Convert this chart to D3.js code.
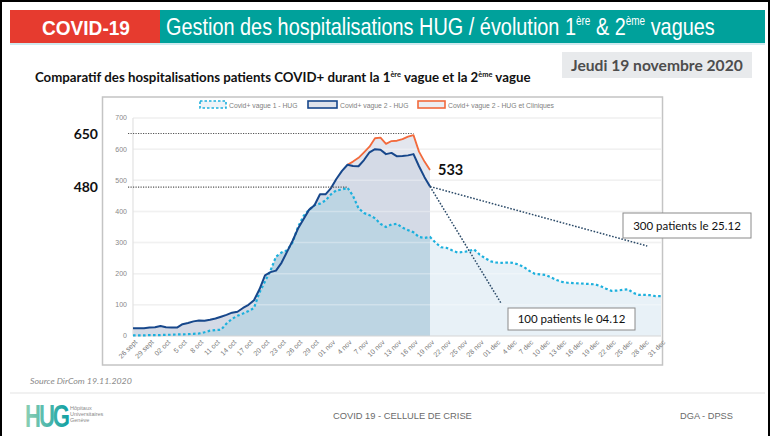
<!DOCTYPE html>
<html>
<head>
<meta charset="utf-8">
<script src="https://cdn.jsdelivr.net/npm/d3@7"></script>
<style>
  body { margin: 0; background: #fff; }
  svg { display: block; }
</style>
</head>
<body>
<svg id="slide" width="772" height="436"></svg>
<script>
// ---- data ----
const tickLabels = ["26 sept","29 sept","02 oct","5 oct","8 oct","11 oct","14 oct","17 oct","20 oct","23 oct","26 oct","29 oct","01 nov","4 nov","7 nov","10 nov","13 nov","16 nov","19 nov","22 nov","25 nov","28 nov","01 dec","4 dec","7 dec","10 dec","13 dec","16 dec","19 dec","22 dec","25 dec","28 dec","31 dec"];
const yTicks = [0, 100, 200, 300, 400, 500, 600, 700];

// daily values, day 0 = 26 sept
const wave1 = [2,2,2,3,3,3,4,4,5,5,6,7,8,12,17,19,20,40,55,65,72,80,90,140,175,210,255,268,275,300,
  350,385,405,420,425,435,455,468,470,476,450,410,395,388,378,360,350,358,360,348,340,333,318,315,318,
  300,285,283,275,268,270,272,278,262,250,240,236,235,236,235,230,222,210,200,198,196,188,180,174,171,
  170,169,168,167,166,160,152,145,146,148,150,138,132,132,131,128,128];
const wave2 = [25,25,25,27,28,32,28,27,27,38,42,47,50,49,52,56,62,68,75,78,90,100,115,150,195,205,210,235,
  270,305,345,375,405,420,455,455,475,505,530,550,546,545,565,590,600,598,584,588,577,578,580,584,545,510,480];
const clinStart = 39; // first day of the "HUG et Cliniques" series
const wave2Clin = [550,560,572,590,608,635,637,617,626,627,632,640,645,592,560,533];

const peaks = [{day: 51, value: 650, label: "650"}, {day: 39, value: 478, label: "480"}];
const projections = [
  {end: [93.5, 289], label: "300 patients le 25.12"},
  {end: [67, 103], label: "100 patients le 04.12"}
];
const lastDay2 = wave2.length - 1;

const svg = d3.select('#slide');
const F = '"Liberation Sans", Arial, sans-serif';
const C = 'Lato, "Open Sans", sans-serif';

// squeeze a text to a target width
function fit(sel, w) {
  const cur = sel.node().getComputedTextLength();
  const x = +sel.attr('x');
  sel.attr('transform', `translate(${x},0) scale(${w / cur},1) translate(${-x},0)`);
}

// ---- header ----
svg.append('rect').attr('x', 10).attr('y', 10).attr('width', 150).attr('height', 33).attr('fill', '#e63b2f');
svg.append('rect').attr('x', 160).attr('y', 10).attr('width', 605).attr('height', 33).attr('fill', '#00a19b');
svg.append('rect').attr('x', 10).attr('y', 43).attr('width', 755).attr('height', 2).attr('fill', '#cfe9ee');

const h1 = svg.append('text').attr('x', 42).attr('y', 35)
  .attr('font-family', F).attr('font-weight', 'bold').attr('font-size', 21).attr('fill', '#fff')
  .text('COVID-19');
fit(h1, 88);

const h2 = svg.append('text').attr('x', 166).attr('y', 35)
  .attr('font-family', F).attr('font-size', 24).attr('fill', '#fff');
h2.append('tspan').text('Gestion des hospitalisations HUG / évolution 1');
h2.append('tspan').attr('font-size', 12).attr('dy', -10).text('ère');
h2.append('tspan').attr('dy', 10).text(' & 2');
h2.append('tspan').attr('font-size', 12).attr('dy', -10).text('ème');
h2.append('tspan').attr('dy', 10).text(' vagues');
fit(h2, 549);

// date box
svg.append('rect').attr('x', 562).attr('y', 52).attr('width', 190).attr('height', 26).attr('fill', '#e8eaec');
const dt = svg.append('text').attr('x', 571).attr('y', 71)
  .attr('font-family', C).attr('font-weight', 'bold').attr('font-size', 15).attr('fill', '#4d4d4d')
  .text('Jeudi 19 novembre 2020');
fit(dt, 172);

// subtitle
const st = svg.append('text').attr('x', 35).attr('y', 82)
  .attr('font-family', C).attr('font-weight', 'bold').attr('font-size', 12.5).attr('fill', '#111');
st.append('tspan').text('Comparatif des hospitalisations patients COVID+ durant la 1');
st.append('tspan').attr('font-size', 7).attr('dy', -5).text('ère');
st.append('tspan').attr('dy', 5).text(' vague et la 2');
st.append('tspan').attr('font-size', 7).attr('dy', -5).text('ème');
st.append('tspan').attr('dy', 5).text(' vague');
fit(st, 496);

// ---- chart frame ----
svg.append('rect').attr('x', 102.5).attr('y', 97).attr('width', 560).attr('height', 268)
  .attr('fill', '#fff').attr('stroke', '#c4c4c4').attr('stroke-width', 1.5);

const x = d3.scaleLinear().domain([0, 96]).range([133, 661]);
const y = d3.scaleLinear().domain([0, 700]).range([336, 118]);

// gridlines under the areas
svg.append('g').selectAll('line').data(yTicks.slice(1)).join('line')
  .attr('x1', x(0)).attr('x2', x(96)).attr('y1', d => y(d)).attr('y2', d => y(d))
  .attr('stroke', '#ebebeb').attr('stroke-width', 1.5);

const area = vals => d3.area().x((d, i) => x(i)).y0(y(0)).y1(d => y(d))(vals);

// wave 2 area
svg.append('path').attr('d', area(wave2)).attr('fill', '#d4dae6');

// band between wave 2 and wave 2 + cliniques
const band = d3.area().x((d, i) => x(clinStart + i)).y0((d, i) => y(wave2[clinStart + i])).y1(d => y(d));
svg.append('path').attr('d', band(wave2Clin)).attr('fill', '#e3e6ee');

// wave 1 area: darker up to today, lighter after
const defs = svg.append('defs');
defs.append('clipPath').attr('id', 'past').append('rect')
  .attr('x', x(0)).attr('y', y(700)).attr('width', x(lastDay2) - x(0)).attr('height', y(0) - y(700));
defs.append('clipPath').attr('id', 'future').append('rect')
  .attr('x', x(lastDay2)).attr('y', y(700)).attr('width', x(96) - x(lastDay2)).attr('height', y(0) - y(700));
svg.append('path').attr('d', area(wave1)).attr('fill', '#bdd5e3').attr('clip-path', 'url(#past)');
svg.append('path').attr('d', area(wave1)).attr('fill', '#e8f1f7').attr('clip-path', 'url(#future)');

// gridlines faintly over the areas
svg.append('g').selectAll('line').data(yTicks.slice(1)).join('line')
  .attr('x1', x(0)).attr('x2', x(96)).attr('y1', d => y(d)).attr('y2', d => y(d))
  .attr('stroke', '#fff').attr('stroke-opacity', 0.3).attr('stroke-width', 1.5);

// axes lines
svg.append('line').attr('x1', x(0)).attr('x2', x(0)).attr('y1', y(700)).attr('y2', y(0))
  .attr('stroke', '#e2e2e2').attr('stroke-width', 1.2);
svg.append('line').attr('x1', x(0)).attr('x2', x(96)).attr('y1', y(0)).attr('y2', y(0))
  .attr('stroke', '#d6d6d6').attr('stroke-width', 1.2);

// y labels
svg.append('g').selectAll('text').data(yTicks).join('text')
  .attr('x', 127).attr('y', d => y(d)).attr('dy', '0.35em').attr('text-anchor', 'end')
  .attr('font-family', F).attr('font-size', 7).attr('fill', '#888')
  .text(d => d);

// x labels, every 3 days
svg.append('g').selectAll('text').data(tickLabels).join('text')
  .attr('transform', (d, i) => `translate(${x(i * 3) + 3},${y(0) + 5}) rotate(-45)`)
  .attr('text-anchor', 'end').attr('dy', '0.35em')
  .attr('font-family', F).attr('font-size', 7).attr('fill', '#777')
  .text(d => d);

// lines
const line = (vals, start) => d3.line().x((d, i) => x(start + i)).y(d => y(d))(vals);
svg.append('path').attr('d', line(wave1, 0)).attr('fill', 'none')
  .attr('stroke', '#1cb0dd').attr('stroke-width', 2.2).attr('stroke-dasharray', '2.6,2.4');
svg.append('path').attr('d', line(wave2Clin, clinStart)).attr('fill', 'none')
  .attr('stroke', '#f26a3c').attr('stroke-width', 1.8).attr('stroke-linejoin', 'round');
svg.append('path').attr('d', line(wave2, 0)).attr('fill', 'none')
  .attr('stroke', '#17478b').attr('stroke-width', 2).attr('stroke-linejoin', 'round');

// legend
const legend = [
  {x: 200, w: 26, label: 'Covid+ vague 1 - HUG', stroke: '#1cb0dd', fill: '#eef3f8', dash: '2.5,2'},
  {x: 308, w: 29, label: 'Covid+ vague 2 - HUG', stroke: '#17478b', fill: '#dfe3eb', dash: null},
  {x: 418, w: 27, label: 'Covid+ vague 2 - HUG et Cliniques', stroke: '#f26a3c', fill: '#eceef2', dash: null}
];
const lg = svg.append('g').selectAll('g').data(legend).join('g');
lg.append('rect').attr('x', d => d.x).attr('y', 101).attr('width', d => d.w).attr('height', 7)
  .attr('fill', d => d.fill).attr('stroke', d => d.stroke).attr('stroke-width', 1.6)
  .attr('stroke-dasharray', d => d.dash);
lg.append('text').attr('x', d => d.x + d.w + 3).attr('y', 107.5)
  .attr('font-family', F).attr('font-size', 6.8).attr('fill', '#808080')
  .text(d => d.label);

// peak reference lines
svg.append('g').selectAll('line').data(peaks).join('line')
  .attr('x1', 128).attr('x2', d => x(d.day)).attr('y1', d => y(d.value)).attr('y2', d => y(d.value))
  .attr('stroke', '#555').attr('stroke-width', 1.1).attr('stroke-dasharray', '1.2,1.3');
svg.append('g').selectAll('text').data(peaks).join('text')
  .attr('x', 98).attr('y', d => y(d.value)).attr('dy', '0.36em').attr('text-anchor', 'end')
  .attr('font-family', C).attr('font-weight', 'bold').attr('font-size', 14).attr('fill', '#111')
  .text(d => d.label);

// last value of HUG et Cliniques
svg.append('text').attr('x', x(lastDay2) + 8).attr('y', y(wave2Clin[wave2Clin.length - 1]) + 5)
  .attr('font-family', C).attr('font-weight', 'bold').attr('font-size', 14.5).attr('fill', '#111')
  .text(wave2Clin[wave2Clin.length - 1]);

// projections
svg.append('g').selectAll('line').data(projections).join('line')
  .attr('x1', x(lastDay2)).attr('y1', y(wave2[lastDay2]))
  .attr('x2', d => x(d.end[0])).attr('y2', d => y(d.end[1]))
  .attr('stroke', '#2b4a68').attr('stroke-width', 1.5).attr('stroke-dasharray', '1.6,1.6');

const boxes = [{x: 623, y: 213, w: 128, h: 25}, {x: 508, y: 308, w: 127, h: 22}];
projections.forEach((p, i) => {
  const b = boxes[i];
  svg.append('rect').attr('x', b.x).attr('y', b.y).attr('width', b.w).attr('height', b.h)
    .attr('fill', '#fff').attr('stroke', '#8a8a8a').attr('stroke-width', 1);
  svg.append('text').attr('x', b.x + b.w / 2).attr('y', b.y + b.h / 2).attr('dy', '0.36em')
    .attr('text-anchor', 'middle').attr('font-family', C).attr('font-size', 11.5).attr('fill', '#111')
    .text(p.label);
});

// ---- footer ----
const src = svg.append('text').attr('x', 30).attr('y', 384)
  .attr('font-family', C).attr('font-style', 'italic').attr('font-size', 8).attr('fill', '#8a8a8a')
  .text('Source DirCom 19.11.2020');
fit(src, 102);

svg.append('line').attr('x1', 10).attr('x2', 765).attr('y1', 393).attr('y2', 393)
  .attr('stroke', '#ededed').attr('stroke-width', 1.5);

const grad = defs.append('linearGradient').attr('id', 'hug').attr('x1', 0).attr('x2', 1);
grad.append('stop').attr('offset', 0).attr('stop-color', '#8fd0b4');
grad.append('stop').attr('offset', 1).attr('stop-color', '#12a0a3');
const logo = svg.append('text').attr('x', 25).attr('y', 427)
  .attr('font-family', F).attr('font-weight', 'bold').attr('font-size', 32).attr('fill', 'url(#hug)')
  .attr('letter-spacing', -3).text('HUG');
fit(logo, 43);
['Hôpitaux', 'Universitaires', 'Genève'].forEach((t, i) => {
  svg.append('text').attr('x', 70).attr('y', 410 + i * 6)
    .attr('font-family', F).attr('font-size', 5.5).attr('fill', '#8a8a8a').text(t);
});

const f1 = svg.append('text').attr('x', 333).attr('y', 419)
  .attr('font-family', F).attr('font-size', 9.5).attr('fill', '#6a6a6a').text('COVID 19 - CELLULE DE CRISE');
fit(f1, 139);
const f2 = svg.append('text').attr('x', 680).attr('y', 419)
  .attr('font-family', F).attr('font-size', 9.5).attr('fill', '#6a6a6a').text('DGA - DPSS');
fit(f2, 53);

// slide border
svg.append('path').attr('d', 'M1,436V1H769V436').attr('fill', 'none').attr('stroke', '#000').attr('stroke-width', 2);
</script>
</body>
</html>
